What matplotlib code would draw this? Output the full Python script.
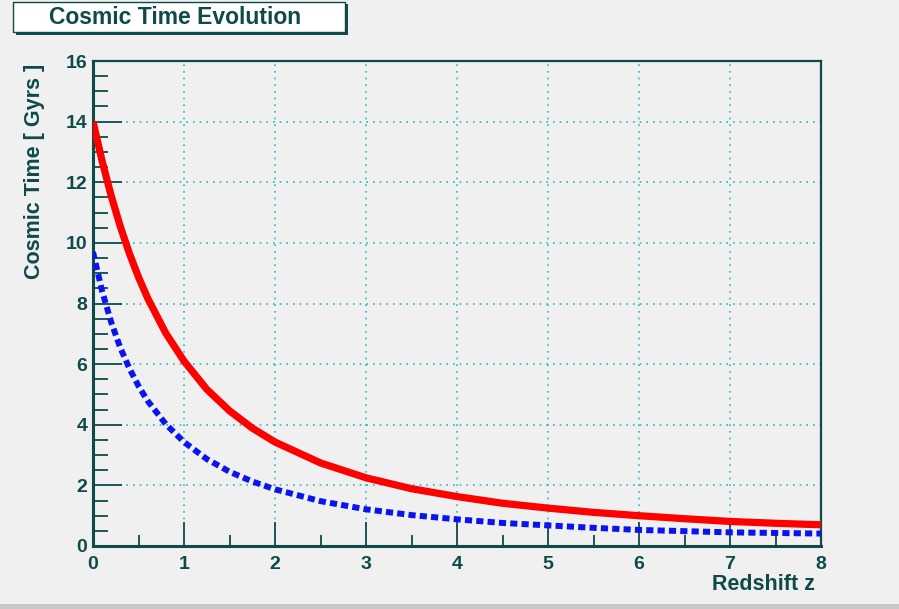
import matplotlib
matplotlib.use("Agg")
import matplotlib.pyplot as plt
from matplotlib.patches import Rectangle
from matplotlib.ticker import MultipleLocator

# ---- data ----
redshift = [0, 0.1, 0.2, 0.3, 0.4, 0.5, 0.6, 0.8, 1.0, 1.25, 1.5, 1.75, 2.0,
            2.5, 3.0, 3.5, 4.0, 4.5, 5.0, 5.5, 6.0, 6.5, 7.0, 7.5, 8.0]
time_lcdm = [14.0, 12.7, 11.55, 10.54, 9.65, 8.87, 8.18, 7.02, 6.1, 5.17, 4.46,
             3.89, 3.43, 2.74, 2.25, 1.89, 1.63, 1.41, 1.25, 1.11, 1.0, 0.9,
             0.81, 0.75, 0.70]
time_eds = [9.7, 8.41, 7.38, 6.54, 5.86, 5.28, 4.79, 4.02, 3.43, 2.87, 2.45,
            2.13, 1.87, 1.48, 1.21, 1.02, 0.88, 0.76, 0.68, 0.6, 0.53, 0.49,
            0.45, 0.43, 0.41]
x_ticks = [0, 1, 2, 3, 4, 5, 6, 7, 8]
y_ticks = [0, 2, 4, 6, 8, 10, 12, 14, 16]

title_text = "Cosmic Time Evolution"
xlabel_text = "Redshift z"
ylabel_text = "Cosmic Time [ Gyrs ]"

# ---- style ----
BG = "#f0f0f0"
AX = "#0f4a4a"
GRID = "#2ab8b8"
plt.rcParams['font.family'] = ['Liberation Sans', 'DejaVu Sans']

fig = plt.figure(figsize=(8.99, 6.09), dpi=100, facecolor=BG)
W, H = 899, 609
ax = fig.add_axes([93 / W, 1 - 546 / H, (821 - 93) / W, (546 - 61) / H])
ax.set_facecolor(BG)

ax.plot(redshift, time_lcdm, color="#ff0000", lw=5.2, solid_capstyle="butt", zorder=3)
ax.plot(redshift, time_eds, color="#0a14f0", lw=4.3, dashes=(1.2, 0.7),
        dash_capstyle="butt", zorder=3)

ax.set_xlim(0, 8)
ax.set_ylim(0, 16)
ax.set_xticks(x_ticks)
ax.set_yticks(y_ticks)
ax.xaxis.set_minor_locator(MultipleLocator(0.5))
ax.yaxis.set_minor_locator(MultipleLocator(0.5))
ax.tick_params(which="major", direction="in", length=17, width=1.3, color=AX,
               labelsize=14, labelcolor=AX)
ax.tick_params(which="minor", direction="in", length=8, width=1.3, color=AX)
ax.tick_params(axis="y", which="major", length=21, pad=4)
ax.tick_params(axis="y", which="minor", length=11)
ax.tick_params(axis="x", which="major", pad=7.5)
for lab in ax.get_xticklabels() + ax.get_yticklabels():
    lab.set_fontweight("bold")

ax.grid(True, which="major", color=GRID, linestyle=(0, (1, 3)), lw=1.2)
ax.set_axisbelow(True)
for side in ["left", "bottom"]:
    ax.spines[side].set_color(AX)
    ax.spines[side].set_linewidth(2.2)
for side in ["top", "right"]:
    ax.spines[side].set_color(AX)
    ax.spines[side].set_linewidth(1.6)

fig.text(35 / W, 1 - 64 / H, ylabel_text, rotation=90, ha="center", va="top",
         fontsize=15.5, fontweight="bold", color=AX)
fig.text(815 / W, 1 - 584 / H, xlabel_text, ha="right", va="center",
         fontsize=15.5, fontweight="bold", color=AX)

# title box with shadow
fig.patches.append(Rectangle((16 / W, 1 - 35 / H), 332 / W, 31 / H, transform=fig.transFigure,
                             facecolor=AX, edgecolor="none", zorder=5))
fig.patches.append(Rectangle((13 / W, 1 - 32 / H), 332 / W, 30 / H, transform=fig.transFigure,
                             facecolor="white", edgecolor=AX, lw=1.0, zorder=6))
fig.text(175 / W, 1 - 17 / H, title_text, ha="center", va="center",
         fontsize=16.5, fontweight="bold", color=AX, zorder=7)

# bottom strip
fig.patches.append(Rectangle((0, 0), 1, 5 / H, transform=fig.transFigure,
                             facecolor="#c8c8c8", edgecolor="none", zorder=1))

fig.savefig("out.png", dpi=100, facecolor=BG)
